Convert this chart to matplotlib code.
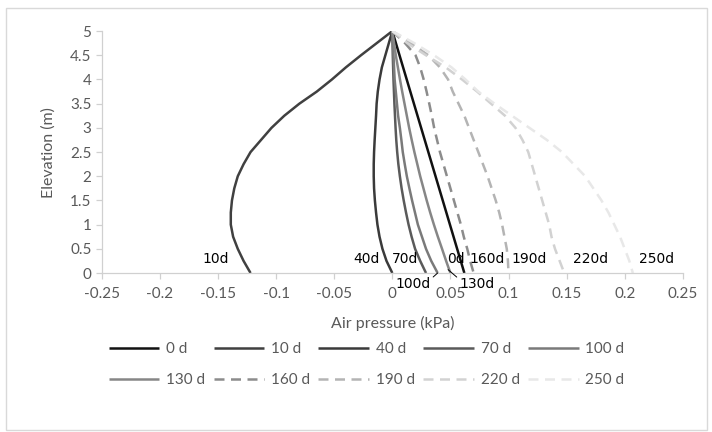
import matplotlib.pyplot as plt
from matplotlib.patches import Rectangle

plt.rcParams['font.family'] = ['Lato', 'DejaVu Sans']
plt.rcParams['axes.unicode_minus'] = False

# Elevation points (m), shared by every series
elevation = [5, 4.75, 4.5, 4.25, 4, 3.75, 3.5, 3.25, 3, 2.75, 2.5,
             2.25, 2, 1.75, 1.5, 1.25, 1, 0.75, 0.5, 0.25, 0]

# Air pressure (kPa) for each day
p_0d = [0, 0.0031, 0.0062, 0.0093, 0.0124, 0.0155, 0.0186, 0.0217, 0.0248, 0.0279, 0.031,
        0.0341, 0.0372, 0.0403, 0.0434, 0.0465, 0.0496, 0.0527, 0.0558, 0.0589, 0.062]
p_10d = [0, -0.0135, -0.027, -0.040, -0.052, -0.065, -0.080, -0.093, -0.104, -0.113, -0.122,
         -0.128, -0.133, -0.136, -0.138, -0.139, -0.139, -0.137, -0.133, -0.128, -0.122]
p_40d = [0, -0.003, -0.006, -0.009, -0.011, -0.0125, -0.0135, -0.014, -0.0146, -0.0152, -0.0157,
         -0.016, -0.016, -0.0157, -0.015, -0.014, -0.0128, -0.011, -0.0085, -0.005, 0]
p_70d = [0, 0.0002, 0.0004, 0.0007, 0.001, 0.0014, 0.0018, 0.0023, 0.0028, 0.0034, 0.0042,
         0.0052, 0.0065, 0.008, 0.0098, 0.0118, 0.014, 0.0166, 0.0196, 0.024, 0.029]
p_100d = [0, 0.0005, 0.001, 0.0015, 0.002, 0.003, 0.004, 0.005, 0.0065, 0.0078, 0.009,
          0.0107, 0.0125, 0.0147, 0.017, 0.0195, 0.022, 0.0255, 0.029, 0.0335, 0.039]
p_130d = [0, 0.0015, 0.003, 0.0048, 0.0066, 0.0085, 0.0105, 0.0125, 0.0145, 0.0167, 0.019,
          0.0215, 0.024, 0.0268, 0.0296, 0.0326, 0.0358, 0.0392, 0.0428, 0.0463, 0.050]
p_160d = [0, 0.011, 0.020, 0.024, 0.027, 0.0295, 0.0318, 0.034, 0.036, 0.0385, 0.041,
          0.044, 0.047, 0.050, 0.053, 0.056, 0.059, 0.0615, 0.0645, 0.067, 0.070]
p_190d = [0, 0.016, 0.031, 0.041, 0.048, 0.052, 0.057, 0.062, 0.066, 0.070, 0.074,
          0.078, 0.082, 0.0855, 0.089, 0.092, 0.0945, 0.0965, 0.0985, 0.0995, 0.100]
p_220d = [0, 0.013, 0.029, 0.046, 0.060, 0.073, 0.085, 0.097, 0.106, 0.112, 0.117,
          0.120, 0.123, 0.126, 0.129, 0.132, 0.135, 0.137, 0.140, 0.144, 0.148]
p_250d = [0, 0.019, 0.036, 0.051, 0.063, 0.074, 0.088, 0.103, 0.118, 0.133, 0.146,
          0.156, 0.166, 0.173, 0.180, 0.186, 0.191, 0.196, 0.200, 0.204, 0.207]

dash = (0, (4, 2.6))
series = [
    ('0 d', p_0d, '#111111', '-'),
    ('10 d', p_10d, '#404040', '-'),
    ('40 d', p_40d, '#3a3a3a', '-'),
    ('70 d', p_70d, '#5a5a5a', '-'),
    ('100 d', p_100d, '#7a7a7a', '-'),
    ('130 d', p_130d, '#868686', '-'),
    ('160 d', p_160d, '#8c8c8c', dash),
    ('190 d', p_190d, '#b4b4b4', dash),
    ('220 d', p_220d, '#d2d2d2', dash),
    ('250 d', p_250d, '#e8e8e8', dash),
]

fig = plt.figure(figsize=(7.12, 4.32), dpi=100)
ax = fig.add_axes([0.143, 0.368, 0.816, 0.56])

handles = []
for label, vals, color, ls in series:
    h, = ax.plot(vals, elevation, color=color, linestyle=ls, linewidth=1.8,
                 label=label, solid_capstyle='butt', dash_capstyle='butt')
    handles.append(h)

ax.set_xlim(-0.25, 0.25)
ax.set_ylim(0, 5)
ax.set_xticks([-0.25, -0.2, -0.15, -0.1, -0.05, 0, 0.05, 0.1, 0.15, 0.2, 0.25])
ax.set_xticklabels(['-0.25', '-0.2', '-0.15', '-0.1', '-0.05', '0', '0.05', '0.1', '0.15', '0.2', '0.25'])
ax.set_yticks([0, 0.5, 1, 1.5, 2, 2.5, 3, 3.5, 4, 4.5, 5])
ax.set_yticklabels(['0', '0.5', '1', '1.5', '2', '2.5', '3', '3.5', '4', '4.5', '5'])

for s in ['top', 'right']:
    ax.spines[s].set_visible(False)
for s in ['left', 'bottom']:
    ax.spines[s].set_color('#d0d0d0')
    ax.spines[s].set_linewidth(0.9)
ax.tick_params(colors='#d0d0d0', labelcolor='#595959', labelsize=11, length=4, width=0.9)
ax.tick_params(axis='x', pad=6)

ax.set_xlabel('Air pressure (kPa)', color='#595959', fontsize=11.5, labelpad=11)
ax.set_ylabel('Elevation (m)', color='#595959', fontsize=11.5, labelpad=10)

# Curve labels
lab = dict(fontsize=10, family='DejaVu Sans', color='black', ha='center', va='center')
ax.text(-0.152, 0.29, '10d', **lab)
ax.text(-0.022, 0.29, '40d', **lab)
ax.text(0.011, 0.29, '70d', **lab)
ax.text(0.055, 0.29, '0d', **lab)
ax.text(0.082, 0.29, '160d', **lab)
ax.text(0.118, 0.29, '190d', **lab)
ax.text(0.171, 0.29, '220d', **lab)
ax.text(0.227, 0.29, '250d', **lab)
ax.annotate('100d', xy=(0.039, 0.0), xytext=(0.0176, -0.22), textcoords='data',
            arrowprops=dict(arrowstyle='-', color='black', lw=0.7, shrinkA=0, shrinkB=0,
                            relpos=(1, 0.8)),
            annotation_clip=False, **lab)
ax.annotate('130d', xy=(0.048, 0.07), xytext=(0.073, -0.22), textcoords='data',
            arrowprops=dict(arrowstyle='-', color='black', lw=0.7, shrinkA=0, shrinkB=0,
                            relpos=(0, 0.8)),
            annotation_clip=False, **lab)

order = [0, 5, 1, 6, 2, 7, 3, 8, 4, 9]
leg = fig.legend([handles[i] for i in order], [series[i][0] for i in order],
                 ncol=5, loc='center', bbox_to_anchor=(0.515, 0.156), frameon=False,
                 handlelength=3.3, handletextpad=0.45, columnspacing=0.55,
                 labelspacing=1.08, fontsize=11)
for t in leg.get_texts():
    t.set_color('#595959')

fig.patches.append(Rectangle((0.008, 0.004), 0.985, 0.978, transform=fig.transFigure,
                             fill=False, edgecolor='#d9d9d9', linewidth=1.0))

fig.savefig('out.png', dpi=100)
